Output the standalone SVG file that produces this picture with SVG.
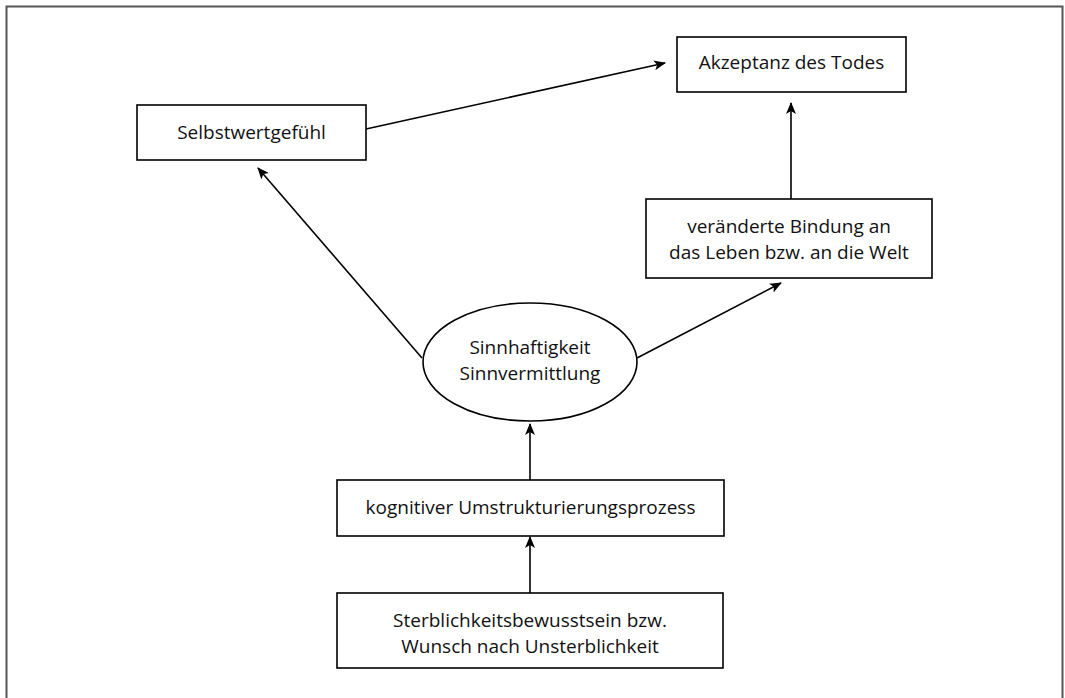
<svg xmlns="http://www.w3.org/2000/svg" width="1065" height="698" viewBox="0 0 1065 698">
<defs>
<style>
.n{fill:#fff;stroke:#000;stroke-width:1.6}
.t{font-family:"Open Sans","Liberation Sans",sans-serif;font-size:19px;fill:#111;text-anchor:middle}
.c{stroke:#000;stroke-width:1.6;fill:none;marker-end:url(#ah)}
</style>
<marker id="ah" viewBox="0 0 12 10" refX="11" refY="5" markerWidth="12" markerHeight="10" markerUnits="userSpaceOnUse" orient="auto">
<path d="M0,0 L12,5 L0,10 L3,5 Z" fill="#000"/>
</marker>
</defs>
<rect width="1065" height="698" fill="#fff"/>
<path d="M6.5,698 V6.5 H1062.5 V698" fill="none" stroke="#555" stroke-width="2"/>
<g id="connectors">
<line class="c" x1="366" y1="129" x2="665" y2="63"/>
<line class="c" x1="791" y1="199" x2="791" y2="103"/>
<line class="c" x1="422" y1="358" x2="258" y2="168"/>
<line class="c" x1="637" y1="358" x2="781" y2="283"/>
<line class="c" x1="530" y1="480" x2="530" y2="424"/>
<line class="c" x1="530" y1="593" x2="530" y2="537"/>
</g>
<g id="akzeptanz">
<rect class="n" x="677" y="37" width="229" height="55"/>
<text class="t" x="791.5" y="69">Akzeptanz des Todes</text>
</g>
<g id="selbstwert">
<rect class="n" x="137" y="105" width="229" height="55"/>
<text class="t" x="251.5" y="139">Selbstwertgefühl</text>
</g>
<g id="bindung">
<rect class="n" x="646" y="199" width="286" height="79"/>
<text class="t" x="789" y="233">veränderte Bindung an</text>
<text class="t" x="789" y="259">das Leben bzw. an die Welt</text>
</g>
<g id="sinn">
<ellipse class="n" cx="530" cy="362" rx="107" ry="59"/>
<text class="t" x="530" y="354">Sinnhaftigkeit</text>
<text class="t" x="530" y="380">Sinnvermittlung</text>
</g>
<g id="kognitiv">
<rect class="n" x="337" y="480" width="387" height="56"/>
<text class="t" x="530.5" y="514">kognitiver Umstrukturierungsprozess</text>
</g>
<g id="sterblichkeit">
<rect class="n" x="337" y="593" width="386" height="75"/>
<text class="t" x="530" y="627">Sterblichkeitsbewusstsein bzw.</text>
<text class="t" x="530" y="653">Wunsch nach Unsterblichkeit</text>
</g>
</svg>
